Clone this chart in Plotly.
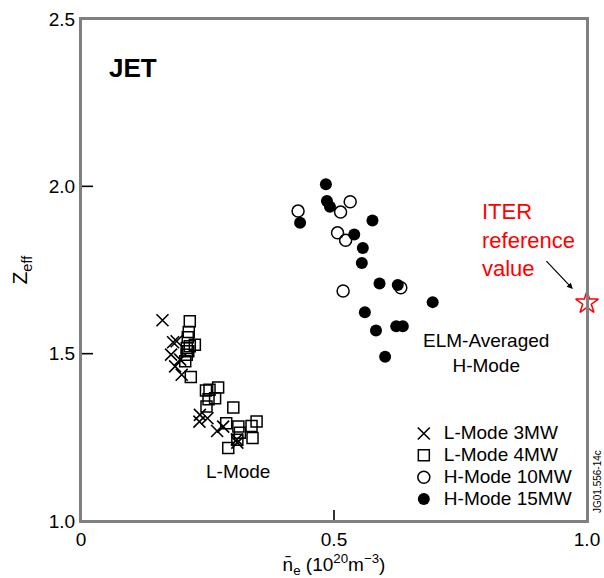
import plotly.graph_objects as go

# L-Mode 3MW (crosses)
l3_x = [0.161, 0.182, 0.189, 0.178, 0.196, 0.186, 0.199, 0.235, 0.234, 0.250, 0.269, 0.281, 0.308, 0.309]
l3_z = [1.600, 1.534, 1.537, 1.497, 1.482, 1.462, 1.437, 1.317, 1.297, 1.307, 1.269, 1.282, 1.243, 1.234]

# L-Mode 4MW (squares)
l4_x = [0.215, 0.213, 0.211, 0.225, 0.215, 0.209, 0.212, 0.209, 0.206, 0.217, 0.247, 0.254, 0.271,
        0.265, 0.252, 0.248, 0.301, 0.287, 0.311, 0.314, 0.337, 0.347, 0.309, 0.339, 0.291]
l4_z = [1.597, 1.565, 1.549, 1.527, 1.522, 1.517, 1.507, 1.497, 1.477, 1.430, 1.390, 1.392, 1.399,
        1.367, 1.364, 1.342, 1.339, 1.292, 1.282, 1.264, 1.284, 1.297, 1.243, 1.248, 1.218]

# H-Mode 10MW (open circles)
h10_x = [0.429, 0.532, 0.513, 0.507, 0.523, 0.518, 0.632]
h10_z = [1.926, 1.954, 1.923, 1.861, 1.839, 1.687, 1.697]

# H-Mode 15MW (filled circles)
h15_x = [0.484, 0.486, 0.492, 0.433, 0.576, 0.540, 0.557, 0.555, 0.590, 0.626, 0.695, 0.561, 0.583, 0.623, 0.636, 0.601]
h15_z = [2.006, 1.956, 1.939, 1.891, 1.898, 1.856, 1.816, 1.771, 1.710, 1.705, 1.654, 1.624, 1.569, 1.582, 1.582, 1.491]

# ITER reference value
iter_x = [1.0]
iter_z = [1.652]

# Axis ticks
x_ticks = [0, 0.5, 1.0]
x_ticklabels = ["0", "0.5", "1.0"]
y_ticks = [1.0, 1.5, 2.0, 2.5]
y_ticklabels = ["1.0", "1.5", "2.0", "2.5"]

X_RANGE = [0, 1.0]
Y_RANGE = [1.0, 2.5]
PLOT_W, PLOT_H = 506, 502

FONT = "Liberation Sans, Arial, sans-serif"
LEG = '<span style="font-size:19px">{}</span>'

fig = go.Figure()
fig.add_trace(go.Scatter(x=l3_x, y=l3_z, mode="markers", name=LEG.format("L-Mode 3MW"),
                         marker=dict(symbol="x-thin-open", size=12, color="black",
                                     line=dict(width=1.6, color="black"))))
fig.add_trace(go.Scatter(x=l4_x, y=l4_z, mode="markers", name=LEG.format("L-Mode 4MW"),
                         marker=dict(symbol="square-open", size=11, color="black",
                                     line=dict(width=1.5, color="black"))))
fig.add_trace(go.Scatter(x=h10_x, y=h10_z, mode="markers", name=LEG.format("H-Mode 10MW"),
                         marker=dict(symbol="circle-open", size=12, color="black",
                                     line=dict(width=1.5, color="black"))))
fig.add_trace(go.Scatter(x=h15_x, y=h15_z, mode="markers", name=LEG.format("H-Mode 15MW"),
                         marker=dict(symbol="circle", size=12, color="black")))
fig.add_trace(go.Scatter(x=iter_x, y=iter_z, mode="markers", showlegend=False, cliponaxis=False,
                         marker=dict(symbol="star-open", size=17, color="red",
                                     line=dict(width=1.5, color="red"))))

# inward tick marks (interior ticks only), built from the tick arrays
xt_len = 11 / PLOT_H * (Y_RANGE[1] - Y_RANGE[0])
yt_len = 12 / PLOT_W * (X_RANGE[1] - X_RANGE[0])
tx, ty = [], []
for xv in x_ticks[1:-1]:
    tx += [xv, xv, None]
    ty += [Y_RANGE[0], Y_RANGE[0] + xt_len, None]
for yv in y_ticks[1:-1]:
    tx += [X_RANGE[0], X_RANGE[0] + yt_len, None]
    ty += [yv, yv, None]
fig.add_trace(go.Scatter(x=tx, y=ty, mode="lines", showlegend=False, hoverinfo="skip",
                         cliponaxis=False, line=dict(color="black", width=1.6)))

axis_common = dict(showline=True, linecolor="#808080", linewidth=2, mirror=True,
                   showgrid=False, zeroline=False, ticks="",
                   automargin=False,
                   tickfont=dict(family=FONT, size=19, color="black"))

fig.update_xaxes(range=X_RANGE, tickvals=x_ticks, ticktext=x_ticklabels,
                 title=dict(text="n\u0304<sub>e</sub> (10<sup>20</sup>m<sup>\u22123</sup>)",
                            font=dict(family=FONT, size=19, color="black")),
                 **axis_common)
fig.update_yaxes(range=Y_RANGE, tickvals=y_ticks, ticktext=y_ticklabels,
                 title=dict(text="Z<sub>eff</sub>", font=dict(family=FONT, size=21, color="black")),
                 **axis_common)

# plot frame
fig.add_shape(type="rect", xref="paper", yref="paper", x0=0, y0=0, x1=1, y1=1,
              line=dict(color="#808080", width=2), layer="above")

fig.add_annotation(x=0.103, y=2.355, xref="x", yref="y", text="<b>JET</b>", showarrow=False,
                   xanchor="center", yanchor="middle", font=dict(family=FONT, size=26, color="black"))
fig.add_annotation(x=0.801, y=1.503, xref="x", yref="y", text="ELM-Averaged<br>H-Mode",
                   showarrow=False, xanchor="center", yanchor="middle", align="center",
                   font=dict(family=FONT, size=19, color="black"))
fig.add_annotation(x=0.311, y=1.148, xref="x", yref="y", text="L-Mode",
                   showarrow=False, xanchor="center", yanchor="middle",
                   font=dict(family=FONT, size=19, color="black"))
fig.add_annotation(x=0.789, y=1.841, xref="x", yref="y", text="ITER<br>reference<br>value",
                   showarrow=False, xanchor="left", yanchor="middle", align="left",
                   font=dict(family=FONT, size=22, color="red"))
fig.add_annotation(x=0.972, y=1.693, ax=0.917, ay=1.781, xref="x", yref="y", axref="x", ayref="y",
                   text="", showarrow=True, arrowhead=2, arrowsize=1, arrowwidth=1.2,
                   arrowcolor="black")
fig.add_annotation(x=1.0, y=0.0, xref="paper", yref="paper", text="JG01.556-14c",
                   showarrow=False, textangle=-90, xanchor="left", yanchor="bottom", xshift=3,
                   yshift=6, font=dict(family=FONT, size=10, color="black"))

fig.update_layout(
    width=604, height=578,
    margin=dict(l=81, r=17, t=19, b=57, autoexpand=False),
    paper_bgcolor="white", plot_bgcolor="white",
    showlegend=True,
    legend=dict(x=0.638, y=0.206, xanchor="left", yanchor="top",
                bgcolor="rgba(0,0,0,0)", font=dict(family=FONT, size=14.5, color="black"),
                itemwidth=30, tracegroupgap=0),
)

fig.write_html("out.html")
